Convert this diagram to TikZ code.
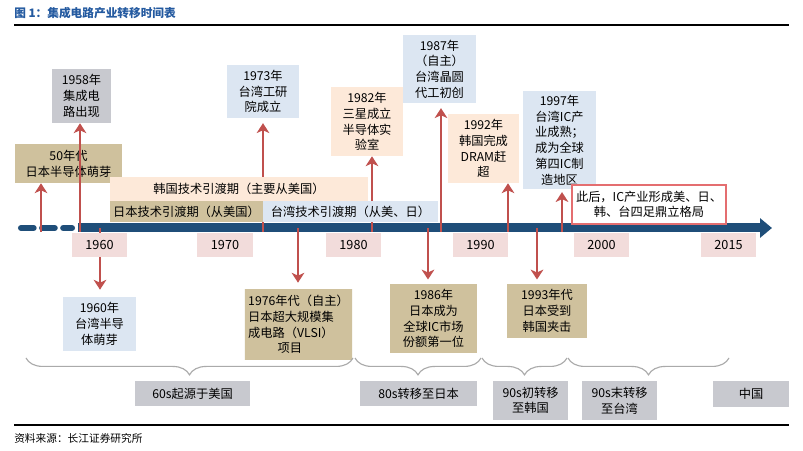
\documentclass[tikz,border=0pt]{standalone}
\usepackage{fontspec}
\setmainfont{Noto Sans CJK SC}
\usetikzlibrary{arrows.meta,decorations.pathreplacing}

\definecolor{tanC}{RGB}{207,193,157}
\definecolor{blueC}{RGB}{220,230,242}
\definecolor{peachC}{RGB}{253,233,217}
\definecolor{pinkC}{RGB}{242,220,219}
\definecolor{stripeC}{RGB}{222,160,160}
\definecolor{arrC}{RGB}{192,80,77}
\definecolor{barC}{RGB}{31,78,121}
\definecolor{titleC}{RGB}{36,90,160}
\definecolor{braceC}{RGB}{170,170,170}
\definecolor{patC}{RGB}{200,201,207}
\definecolor{frameC}{RGB}{228,110,112}

\begin{document}
\begin{tikzpicture}[x=0.025cm, y=-0.025cm,
    every node/.style={align=center, inner sep=0pt, font=\fontsize{8.7}{11.2}\selectfont},
    tanbox/.style={fill=tanC},
    bluebox/.style={fill=blueC},
    peachbox/.style={fill=peachC},
    patbox/.style={fill=patC},
    yearbox/.style={fill=pinkC, minimum width=1.375cm, minimum height=0.6cm, font=\fontsize{9}{11}\selectfont},
    evarrow/.style={draw=arrC, line width=2.1pt, -{Stealth[length=7pt,width=9pt,inset=2pt]}},
    timebar/.style={draw=barC, line width=6.4pt, -{Triangle[length=8.5pt,width=13.5pt]}},
    era/.style={draw=braceC, line width=0.8pt, decorate, decoration={brace,mirror,amplitude=12pt}}]
  \fill[white] (0,0) rectangle (803,451);
  \useasboundingbox (0,0) rectangle (803,451);

  % title and source
  \node[anchor=west, text=titleC, font=\fontsize{8.3}{10}\selectfont\bfseries] (title) at (14,13)
    {图 1：集成电路产业转移时间表};
  \draw[line width=1.1pt] (14,25) -- (789,25);
  \draw[line width=0.9pt] (14,425) -- (789,425);
  \node[anchor=west, font=\fontsize{7.6}{9}\selectfont] (src) at (14,438) {资料来源：长江证券研究所};

  % time axis
  \coordinate (dashL) at (21,228);
  \coordinate (dashR) at (72,228);
  \coordinate (barL) at (78,228);
  \coordinate (barR) at (772,228);
  \draw[draw=barC, line width=4.3pt, line cap=round, dash pattern=on 9pt off 6pt] (dashL) -- (dashR);
  \draw[timebar] (barL) -- (barR);

  % events above the axis
  \node[tanbox,minimum width=2.675cm,minimum height=0.975cm] (n50s) at (68.5,163.5) {50年代\\日本半导体萌芽};
  \node[patbox,minimum width=1.475cm,minimum height=1.35cm] (n1958) at (81.5,96) {1958年\\集成电\\路出现};
  \node[bluebox,minimum width=1.8cm,minimum height=1.325cm] (n1973) at (263,91.5) {1973年\\台湾工研\\院成立};
  \node[peachbox,minimum width=1.8cm,minimum height=1.725cm] (n1982) at (367,121.5) {1982年\\三星成立\\半导体实\\验室};
  \node[bluebox,minimum width=1.825cm,minimum height=1.7cm] (n1987) at (439.5,69) {1987年\\（自主）\\台湾晶圆\\代工初创};
  \node[peachbox,minimum width=1.775cm,minimum height=1.725cm] (n1992) at (483.5,148.5) {1992年\\韩国完成\\DRAM赶\\超};
  \node[bluebox,minimum width=1.825cm,minimum height=2.45cm] (n1997) at (559.5,140) {1997年\\台湾IC产\\业成熟；\\成为全球\\第四IC制\\造地区};

  \coordinate (u50s) at (41,232);
  \coordinate (u1958) at (80,232);
  \coordinate (u1973) at (263,232);
  \coordinate (u1982) at (372,232);
  \coordinate (u1987) at (441,232);
  \coordinate (u1992) at (508,232);
  \coordinate (u1997) at (562,232);
  \draw[evarrow] (u50s) -- (u50s |- n50s.south);
  \draw[evarrow] (u1958) -- (u1958 |- n1958.south);
  \draw[evarrow,shorten >=3.5pt] (u1973) -- (u1973 |- n1973.south);
  \draw[evarrow] (u1982) -- (u1982 |- n1982.south);
  \draw[evarrow,shorten >=3.5pt] (u1987) -- (u1987 |- n1987.south);
  \draw[evarrow] (u1992) -- (u1992 |- n1992.south);
  \draw[evarrow,shorten >=2pt] (u1997) -- (u1997 |- n1997.south);

  % events below the axis
  \coordinate (d1960) at (100,228);
  \coordinate (d1976) at (298,228);
  \coordinate (d1986) at (428,228);
  \coordinate (d1993) at (537,228);
  \node[bluebox,minimum width=1.825cm,minimum height=1.35cm] (n1960) at (99.5,324) {1960年\\台湾半导\\体萌芽};
  \node[shading=axis, top color=tanC, middle color=stripeC, bottom color=tanC, shading angle=14,
    minimum width=2.675cm,minimum height=1.725cm, align=left] (n1976) at (298.5,324.5)
    {1976年代（自主）\\日本超大规模集\\成电路（VLSI）\\\hspace*{2.4em}项目};
  \node[tanbox,minimum width=2.175cm,minimum height=1.725cm] (n1986) at (433.5,318.5) {1986年\\日本成为\\全球IC市场\\份额第一位};
  \node[tanbox,minimum width=2.0cm,minimum height=1.35cm] (n1993) at (547,311) {1993年代\\日本受到\\韩国夹击};
  \draw[evarrow,shorten >=5pt] (d1960) -- (d1960 |- n1960.north);
  \draw[evarrow,shorten >=5pt] (d1976) -- (d1976 |- n1976.north);
  \draw[evarrow,shorten >=3pt] (d1986) -- (d1986 |- n1986.north);
  \draw[evarrow,shorten >=3pt] (d1993) -- (d1993 |- n1993.north);

  % transfer periods
  \node[peachbox,minimum width=6.45cm,minimum height=0.6cm] (nkor) at (239,189) {韩国技术引渡期（主要从美国）};
  \node[tanbox,minimum width=3.825cm,minimum height=0.525cm] (njpn) at (186.5,211.5) {日本技术引渡期（从美国）};
  \node[bluebox,minimum width=4.375cm,minimum height=0.525cm] (ntw) at (350.5,211.5) {台湾技术引渡期（从美、日）};
  \node[draw=frameC, line width=1.8pt, fill=white, minimum width=3.85cm, minimum height=0.98cm] (nafter) at (649,204.5)
    {此后，IC产业形成美、日、\\韩、台四足鼎立格局};

  % year marks
  \node[yearbox] (y1960) at (99.5,245) {1960};
  \node[yearbox] (y1970) at (225,245) {1970};
  \node[yearbox] (y1980) at (353.5,245) {1980};
  \node[yearbox] (y1990) at (480.5,245) {1990};
  \node[yearbox] (y2000) at (601.5,245) {2000};
  \node[yearbox] (y2015) at (728.5,245) {2015};

  % eras
  \coordinate (e0) at (26,358);
  \coordinate (e1) at (353,358);
  \coordinate (e2) at (355,358);
  \coordinate (e3) at (481,358);
  \coordinate (e4) at (482,358);
  \coordinate (e5) at (567,358);
  \coordinate (e6) at (568,358);
  \coordinate (e7) at (729,358);
  \draw[era] (e0) -- (e1);
  \draw[era] (e2) -- (e3);
  \draw[era] (e4) -- (e5);
  \draw[era] (e6) -- (e7);
  \node[patbox,minimum width=2.875cm,minimum height=0.625cm] (l60s) at (192.5,393.5) {60s起源于美国};
  \node[patbox,minimum width=2.925cm,minimum height=0.625cm] (l80s) at (418.5,393.5) {80s转移至日本};
  \node[patbox,minimum width=1.875cm,minimum height=0.975cm] (l90a) at (530.5,400.5) {90s初转移\\至韩国};
  \node[patbox,minimum width=1.875cm,minimum height=0.975cm] (l90b) at (619.5,400.5) {90s末转移\\至台湾};
  \node[patbox,minimum width=1.9cm,minimum height=0.65cm] (lcn) at (751,394) {中国};
\end{tikzpicture}
\end{document}
